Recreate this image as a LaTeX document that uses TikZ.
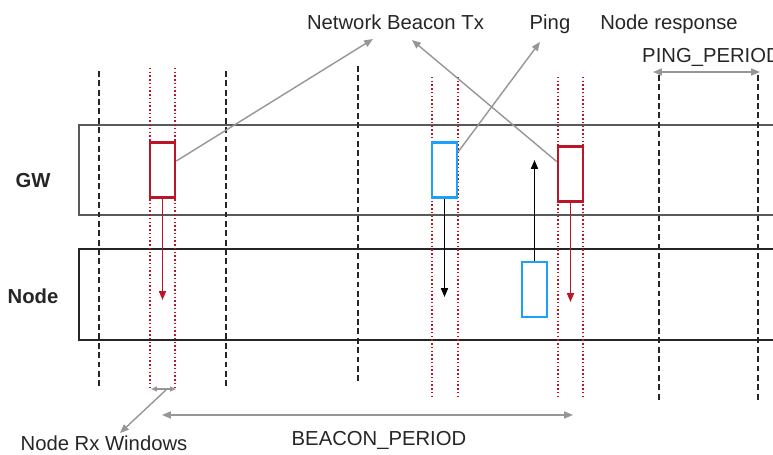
\documentclass[tikz,border=0pt]{standalone}
\usepackage{fontspec}
\setmainfont{Liberation Sans}
\usetikzlibrary{arrows.meta}

\definecolor{txred}{RGB}{190,20,40}
\definecolor{txblue}{RGB}{30,160,250}
\definecolor{callout}{RGB}{150,150,150}

\begin{document}
\begin{tikzpicture}[x=0.03cm, y=-0.03cm, >={Triangle[length=7.5pt,width=6pt]}]
        \tikzset{every node/.style = {font=\fontsize{17.3}{20}\selectfont, text=black!85},
                 slot/.style = {draw, rectangle, line width=2.2pt, inner sep=0pt,
                                minimum width=0.75cm, minimum height=1.65cm},
                 period/.style = {black!85, line width=1.3pt, dash pattern=on 5pt off 3pt},
                 window/.style = {txred, line width=1.2pt, dotted},
                 pointer/.style = {callout, line width=1.2pt}}

        \useasboundingbox (0,0) rectangle (773,455);

        % GW and Node lanes
        \draw[black!65, line width=0.9pt] (773,125) -- (79,125) -- (79,215) -- (773,215);
        \draw[black!85, line width=0.9pt] (773,249) -- (79,249) -- (79,340) -- (773,340);

        \node[font=\fontsize{17.3}{20}\selectfont\bfseries, anchor=base] (gw) at (33,188) {GW};
        \node[font=\fontsize{17.3}{20}\selectfont\bfseries, anchor=base] (nd) at (33,304) {Node};

        % beacon period marks
        \draw[period] (99,71) -- (99,386);
        \draw[period] (226,71) -- (226,386);
        \draw[period] (358,66) -- (358,382);
        \draw[period] (659,75) -- (659,402);
        \draw[period] (758,75) -- (758,400);

        % receive windows
        \draw[window] (150,68) -- (150,389);
        \draw[window] (175,68) -- (175,389);
        \draw[window] (432,77) -- (432,397);
        \draw[window] (458,77) -- (458,397);
        \draw[window] (558,77) -- (558,399);
        \draw[window] (583,77) -- (583,399);

        % transmissions
        \node[slot, txred] (rx1) at (162.5,170) {};
        \node[slot, txblue] (ping) at (444.5,170) {};
        \node[slot, txblue] (resp) at (534.5,289.5) {};
        \node[slot, txred] (rx2) at (570.5,174) {};

        \coordinate (rx1end) at (162.5,300);
        \coordinate (pingend) at (444.5,297);
        \coordinate (respend) at (534.5,160);
        \coordinate (rx2end) at (570.5,302);

        \draw[txred, line width=1.2pt] (rx1) edge[->] (rx1end);
        \draw[black, line width=1.2pt] (ping) edge[->] (pingend);
        \draw[black, line width=1.2pt] (resp) edge[->] (respend);
        \draw[txred, line width=1.2pt] (rx2) edge[->] (rx2end);

        % labels
        \node[anchor=base] (beacontx) at (395.5,30) {Network Beacon Tx};
        \node[anchor=base] (pinglbl) at (550,30) {Ping};
        \node[anchor=base] (resplbl) at (669,30) {Node response};
        \node[anchor=base west, inner sep=0pt] (pingper) at (642,63) {PING\_PERIOD};
        \node[anchor=base, inner sep=1pt] (rxwin) at (104,451) {Node Rx Windows};
        \node[anchor=base] (beaconper) at (379,446) {BEACON\_PERIOD};

        \coordinate (tx1) at (373,39);
        \coordinate (tx2) at (412,40);
        \coordinate (pingtip) at (540,42);
        \coordinate (pp1) at (653,72);
        \coordinate (pp2) at (760,72);
        \coordinate (rw1) at (151,389);
        \coordinate (rw2) at (176,389);
        \coordinate (rwmid) at (167,389);
        \coordinate (rwtip) at (120,433);
        \coordinate (bp1) at (162,415);
        \coordinate (bp2) at (573,415);

        % callouts
        \draw[pointer] (rx1.33) edge[->] (tx1);
        \draw[pointer] (rx2.138) edge[->] (tx2);
        \draw[pointer] (ping.53) edge[->] (pingtip);
        \draw[pointer] (pp1) edge[<->] (pp2);
        \draw[pointer] (rw1) edge[{Triangle[length=5pt,width=4pt]}-{Triangle[length=5pt,width=4pt]}] (rw2);
        \draw[pointer] (rwmid) edge[->] (rwtip);
        \draw[pointer] (bp1) edge[<->] (bp2);

    \end{tikzpicture}
\end{document}
